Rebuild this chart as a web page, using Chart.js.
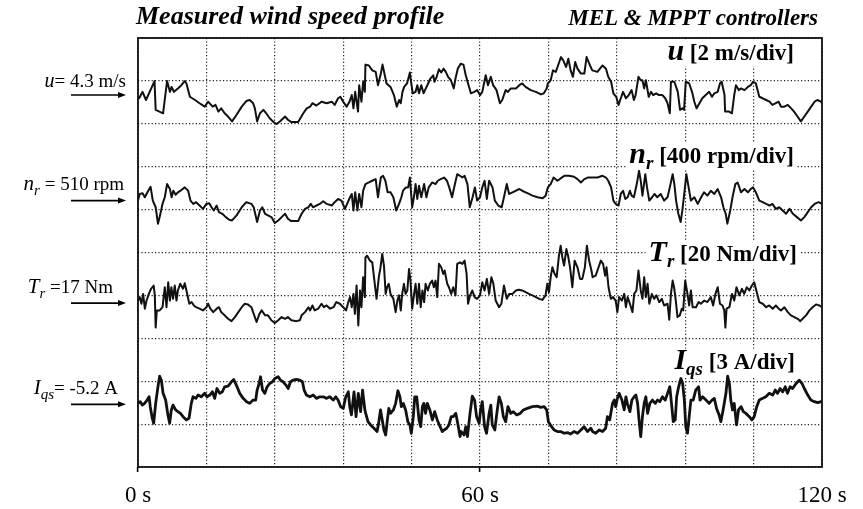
<!DOCTYPE html>
<html>
<head>
<meta charset="utf-8">
<title>Measured wind speed profile - MEL &amp; MPPT controllers</title>
<script src="https://cdn.jsdelivr.net/npm/chart.js@4/dist/chart.umd.min.js"></script>
<style>
    html, body { margin: 0; padding: 0; background: #fff; }
    #wrap { width: 863px; height: 509px; }
</style>
</head>
<body>
<div id="wrap"><canvas id="scope" width="863" height="509"></canvas></div>
<script>
// Zeitachse (s): nur drei Beschriftungen, Raster alle 12 s.
var timeTicks = [0, 60, 120];
var timeTickLabels = ['0 s', '60 s', '120 s'];

// Windgeschwindigkeit u (m/s)
var windSpeed = [
    [0.1,4.22],[0.2,4.15],[0.8,4.45],[1.4,4.07],[2.9,4.95],[3.1,3.61],[4.4,3.45],[5.1,4.95],[5.6,4.45],[5.9,4.68],
    [6.3,4.45],[7.0,4.61],[7.6,4.76],[8.2,4.95],[8.5,4.84],[9.1,4.22],[10.0,4.07],[10.8,3.92],[11.7,3.76],[12.3,3.99],
    [13.1,3.76],[13.6,3.84],[14.1,3.53],[14.6,3.68],[15.2,3.45],[15.8,3.30],[16.5,3.07],[17.3,3.38],[18.2,3.76],[19.0,4.02],
    [19.6,4.07],[20.2,3.92],[20.5,3.68],[20.9,3.07],[21.4,3.45],[22.0,3.61],[22.5,3.45],[23.1,3.22],[24.0,2.99],[24.3,2.95],
    [24.9,3.07],[25.8,3.30],[26.3,3.15],[26.9,3.04],[28.1,3.04],[29.0,3.45],[29.6,3.68],[30.2,3.76],[30.6,3.92],[31.3,3.81],
    [32.2,3.99],[33.1,3.92],[34.0,3.99],[34.5,3.84],[35.1,4.15],[35.5,4.22],[36.0,3.99],[36.6,3.76],[37.1,3.99],[37.5,4.30],
    [37.8,3.68],[38.1,4.45],[38.6,3.53],[38.8,4.76],[39.2,3.99],[39.5,4.92],[39.8,4.45],
    [39.9,5.72],[40.5,5.68],[41.1,5.45],[41.7,5.38],[42.1,4.76],[42.6,5.30],[42.9,5.72],[43.3,5.22],[43.6,4.84],[44.3,4.68],
    [44.9,4.30],[45.4,3.76],[45.8,4.07],[46.1,3.92],[46.4,4.45],[46.7,4.68],[47.2,4.84],[47.7,5.35],[47.9,4.92],[48.2,4.38],
    [48.7,4.45],[49.0,4.76],[49.3,4.38],[49.7,4.76],[50.1,4.38],[50.5,4.61],[50.9,4.84],[51.3,5.07],[51.8,5.22],[52.0,4.92],
    [52.4,5.15],[52.8,5.50],[53.2,5.35],[53.6,5.53],[54.0,5.38],[54.4,5.15],[54.9,4.99],[55.4,4.61],[55.7,5.07],[56.1,5.53],
    [56.6,5.76],[57.1,5.72],[57.5,5.22],[57.9,4.84],[58.4,4.38],[59.0,4.45],[59.5,4.53],[60.0,4.30],[60.4,4.45],[61.0,5.22],
    [61.4,4.76],[61.9,5.15],[62.3,4.76],[62.9,4.53],[63.5,3.92],[63.9,4.07],[64.5,4.53],[64.9,4.45],[65.4,4.61],[66.3,4.61],
    [66.9,4.76],[67.4,4.84],[68.0,4.68],[68.9,4.53],[69.8,4.45],[70.7,4.33],[71.2,4.38],[71.7,4.61],[71.9,4.84],[72.4,4.99],
    [72.8,5.45],[73.3,5.38],[73.6,5.61],[74.2,6.07],[74.6,5.92],[75.1,5.61],[75.5,5.99],[75.9,5.45],[76.3,5.15],[76.7,5.84],
    [77.1,5.53],[77.7,5.30],[78.3,5.30],[78.7,6.07],[79.3,5.68],
    [79.7,5.45],[80.6,5.38],[81.5,5.68],[82.1,5.53],[82.5,5.15],[83.0,4.92],[83.4,4.38],[83.9,4.22],[84.3,3.84],[84.7,4.15],
    [85.1,4.45],[85.6,4.15],[86.1,4.30],[86.6,4.53],[87.0,4.07],[87.3,4.30],[87.8,5.15],[88.2,4.99],[88.5,4.99],[88.8,4.61],
    [89.1,4.99],[89.6,4.22],[90.0,4.45],[90.4,4.30],[90.9,4.38],[91.4,4.30],[92.0,4.30],[92.5,4.15],[92.9,3.92],[93.3,3.45],
    [93.5,4.92],[94.1,4.92],[94.7,4.45],[95.1,3.61],[95.5,3.68],[95.8,3.61],[96.1,4.92],[96.7,4.84],[97.2,4.45],[97.6,3.99],
    [98.0,3.68],[98.5,3.92],[99.0,4.15],[99.6,4.30],[100.2,4.45],[100.7,4.22],[101.1,4.38],[101.7,4.45],[102.1,4.84],[102.4,4.92],
    [102.9,4.30],[103.0,3.53],[103.7,3.53],[104.2,3.45],[104.6,4.30],[104.9,4.76],[105.4,4.53],[105.8,4.61],[106.4,4.53],[107.0,4.68],
    [107.5,4.76],[107.9,4.92],[108.4,4.84],[109.0,4.22],[109.6,4.15],[110.2,4.07],[110.8,3.99],[111.3,3.84],[111.9,3.92],[112.4,3.99],
    [112.8,3.76],[113.4,3.76],[114.0,3.84],[114.6,3.68],[115.1,3.53],[115.7,3.30],[116.3,3.07],[116.9,3.30],[117.5,3.53],[118.1,3.76],
    [118.7,3.99],[119.2,4.07],[119.8,3.99],[120.0,3.92]
];

// Rotordrehzahl n_r (rpm)
var rotorSpeed = [
    [0.0,510],[0.3,572],[0.8,578],[1.2,541],[1.8,602],[2.2,639],[2.6,510],[3.1,448],[3.5,295],[3.8,356],
    [4.3,479],[4.7,541],[5.1,664],[5.6,618],[5.9,541],[6.2,602],[6.6,565],[7.0,587],[7.6,608],[8.2,633],
    [8.8,602],[9.2,510],[9.7,479],[10.2,495],[10.8,464],[11.4,433],[12.0,479],[12.5,485],[12.9,448],[13.3,418],
    [13.8,464],[14.2,402],[14.8,387],[15.4,356],[16.0,332],[16.5,325],[17.3,372],[18.2,448],[19.0,495],[19.9,479],
    [20.3,448],[20.9,310],[21.4,418],[21.8,448],[22.3,387],[22.8,372],[23.4,356],[24.0,301],[24.6,325],[25.2,356],
    [25.8,387],[26.3,341],[26.9,319],[28.1,319],[28.7,387],[29.3,433],[29.9,448],[30.3,479],[30.7,448],[31.3,464],
    [31.9,479],[32.5,504],[33.1,479],[34.0,464],[34.5,495],[35.1,525],[35.7,510],[36.3,433],[37.2,541],[37.5,572],
    [37.8,418],[38.1,587],[38.5,418],[38.8,572],[39.2,448],[39.5,602],
    [39.9,664],[40.5,679],[41.1,695],[41.7,710],[42.1,541],[42.6,725],[43.0,741],[43.4,695],[43.8,587],[44.3,587],
    [44.8,541],[45.3,418],[45.8,479],[46.2,541],[46.5,602],[47.0,633],[47.4,633],[47.7,725],[48.1,448],[48.4,541],
    [48.7,664],[49.0,525],[49.3,648],[49.7,541],[50.2,664],[50.6,541],[51.0,633],[51.6,679],[52.2,664],[52.6,695],
    [53.1,710],[53.7,725],[54.2,695],[54.6,633],[55.1,541],[55.6,664],[56.0,756],[56.5,741],[56.9,725],[57.3,741],
    [57.8,664],[58.2,448],[58.7,541],[59.1,633],[59.5,510],[60.0,541],[60.4,633],[60.8,695],[61.2,525],[61.6,695],
    [62.2,633],[62.6,510],[63.2,464],[63.8,448],[64.2,541],[64.7,664],[65.1,572],[65.7,587],[66.3,602],[66.9,618],
    [67.4,602],[68.0,587],[68.6,572],[69.2,556],[70.1,541],[71.0,532],[71.5,556],[71.9,633],[72.4,664],[72.9,725],
    [73.6,695],[74.2,719],[74.8,741],[75.6,741],[76.5,732],[77.1,710],[77.7,679],[78.3,710],[78.9,725],[79.4,725],
    [79.7,725],[80.6,725],[81.5,741],[82.1,725],[82.5,695],[83.0,633],[83.4,510],[83.8,479],[84.3,464],[84.7,572],
    [85.1,602],[85.5,525],[85.9,541],[86.3,602],[86.6,556],[87.0,541],[87.5,664],[87.9,787],[88.2,695],[88.5,556],
    [89.0,756],[89.3,633],[89.7,510],[90.2,541],[90.6,572],[91.1,541],[91.7,572],[92.3,510],[92.9,541],[93.3,633],
    [93.8,756],[94.1,664],[94.4,510],[94.8,387],[95.2,310],[95.5,418],[95.8,556],[96.2,756],[96.6,633],[97.0,510],
    [97.6,541],[98.2,479],[98.8,541],[99.3,587],[99.9,556],[100.5,602],[101.1,572],[101.7,618],[102.3,541],[102.7,448],
    [103.1,387],[103.4,295],[103.9,418],[104.3,541],[104.8,664],[105.2,679],[105.8,587],[106.4,618],[107.0,587],[107.5,618],
    [107.9,633],[108.4,587],[109.0,510],[109.6,495],[110.2,479],[110.8,464],[111.3,479],[111.9,433],[112.5,448],[113.1,418],
    [113.7,387],[114.3,433],[114.9,387],[115.6,356],[116.3,325],[116.9,356],[117.5,402],[118.1,448],[118.7,479],[119.4,495],
    [120.0,479]
];

// Rotormoment T_r (Nm)
var rotorTorque = [
    [0.0,18.2],[0.3,19.8],[0.6,16.7],[0.9,21.3],[1.2,14.4],[1.5,18.2],[1.9,21.3],[2.3,23.7],[2.75,25.2],[2.95,20.6],
    [3.1,5.6],[3.3,13.6],[3.8,13.6],[4.3,15.1],[4.7,24.4],[5.0,15.1],[5.3,26.7],[5.6,18.2],[5.85,24.4],[6.15,19.0],
    [6.45,25.2],[6.75,18.2],[7.0,22.9],[7.4,26.0],[7.9,23.7],[8.2,26.3],[8.5,22.9],[9.0,16.7],[9.4,17.5],[9.8,15.9],
    [10.2,15.1],[10.8,14.4],[11.4,13.6],[12.0,15.1],[12.3,16.7],[12.7,14.4],[13.2,12.8],[13.8,14.4],[14.2,15.1],[14.6,12.8],
    [15.2,11.3],[15.8,9.7],[16.4,8.6],[17.0,10.5],[17.6,12.8],[18.2,15.1],[18.7,16.7],[19.3,16.4],[19.9,15.1],[20.3,12.0],
    [20.8,8.2],[21.3,12.0],[21.7,13.6],[22.3,11.3],[22.8,11.3],[23.4,9.0],[24.0,7.7],[24.6,9.0],[25.2,10.5],[25.8,9.7],
    [26.3,10.5],[26.9,9.0],[27.8,8.6],[28.4,9.0],[28.7,11.3],[29.3,12.8],[29.9,15.1],[30.2,13.6],[30.6,15.9],[31.0,13.6],
    [31.6,14.4],[32.2,16.7],[32.6,15.1],[33.1,15.9],[33.7,14.4],[34.3,15.1],[34.8,17.5],[35.4,16.7],[36.0,15.1],[36.5,13.6],
    [36.9,17.5],[37.2,19.8],[37.5,15.1],[37.8,21.3],[38.05,12.0],[38.35,25.2],[38.65,6.6],[38.95,22.9],[39.2,15.1],[39.5,29.1],
    [39.8,19.8],
    [39.9,38.3],[40.2,39.1],[40.7,36.8],[41.1,36.0],[41.4,29.1],[41.85,19.0],[42.25,29.1],[42.55,33.7],[42.85,39.9],[43.15,34.5],
    [43.45,21.3],[43.7,24.4],[44.0,26.0],[44.3,21.3],[44.8,19.0],[45.2,12.8],[45.5,18.2],[45.8,20.6],[46.1,13.6],[46.35,21.3],
    [46.65,26.0],[46.95,21.3],[47.25,22.9],[47.55,32.9],[47.8,27.5],[48.1,14.4],[48.4,20.6],[48.7,26.0],[49.0,16.7],[49.3,26.0],
    [49.6,15.1],[49.9,22.9],[50.2,17.5],[50.45,26.0],[50.85,22.9],[51.2,26.0],[51.6,27.5],[51.9,24.4],[52.2,27.5],[52.5,19.8],
    [52.8,35.3],[53.2,33.7],[53.55,30.6],[53.8,32.2],[54.25,26.0],[54.55,24.4],[54.95,21.3],[55.3,24.4],[55.7,20.6],[56.0,35.3],
    [56.5,36.0],[56.9,35.3],[57.3,36.8],[57.65,30.6],[57.9,16.7],[58.25,20.6],[58.65,22.9],[59.05,19.8],[59.5,19.0],[60.0,20.6],
    [60.4,26.7],[60.8,22.9],[61.2,28.3],[61.6,21.3],[62.0,29.1],[62.35,26.0],[62.75,18.2],[63.35,15.1],[63.75,16.7],[64.2,25.2],
    [64.7,19.0],[65.1,21.3],[65.7,21.3],[66.3,22.9],[66.85,23.2],[67.4,22.9],[68.0,22.1],[68.6,21.3],[69.2,20.6],[69.8,19.8],
    [70.4,19.0],[70.95,18.5],[71.5,20.6],[71.8,26.0],[72.1,22.1],[72.4,29.1],[72.7,33.7],[73.1,30.6],[73.45,29.1],[73.85,39.1],
    [74.15,43.8],[74.45,38.3],[74.75,34.5],[75.15,42.2],[75.45,39.1],[75.8,33.7],[76.2,24.4],[76.6,36.8],[77.1,33.7],[77.55,28.3],
    [77.95,28.3],[78.4,33.7],[78.75,43.8],[79.15,36.8],[79.55,32.2],
    [79.75,29.1],[80.3,29.8],[80.8,33.7],[81.2,36.8],[81.6,35.3],[81.95,29.8],[82.2,33.7],[82.55,24.4],[82.95,19.0],[83.35,19.8],
    [83.8,18.2],[84.1,12.8],[84.4,19.8],[84.9,18.2],[85.3,21.3],[85.6,15.1],[85.9,19.8],[86.3,16.7],[86.75,12.8],[87.05,21.3],
    [87.45,22.9],[87.8,32.2],[88.2,22.9],[88.5,19.0],[88.8,29.1],[89.1,19.8],[89.4,26.0],[89.7,16.7],[90.15,21.3],[90.55,19.0],
    [90.95,20.6],[91.45,17.5],[91.9,19.0],[92.3,15.9],[92.9,16.7],[93.2,9.3],[93.5,21.3],[93.8,27.5],[94.05,24.4],[94.35,18.2],
    [94.65,10.5],[95.05,11.3],[95.4,14.4],[95.65,13.6],[96.0,27.5],[96.4,21.3],[96.7,15.9],[97.0,22.9],[97.3,15.1],[97.9,15.1],
    [98.35,17.5],[98.75,16.7],[99.35,18.2],[99.9,17.5],[100.5,19.8],[100.9,15.9],[101.3,21.3],[101.7,24.4],[102.1,16.7],[102.55,15.9],
    [102.85,13.6],[103.05,5.6],[103.25,14.4],[103.75,15.1],[104.2,21.3],[104.6,18.2],[105.0,24.4],[105.5,20.6],[105.95,23.7],[106.35,21.3],
    [106.8,24.4],[107.25,22.9],[107.7,25.2],[108.1,26.7],[108.55,22.1],[109.0,17.5],[109.6,16.7],[110.2,15.1],[110.75,15.9],[111.35,14.4],
    [111.9,15.9],[112.4,14.4],[112.8,13.6],[113.4,15.1],[114.0,12.8],[114.55,11.3],[115.15,10.5],[115.75,9.7],[116.15,8.6],[116.6,9.7],
    [117.2,11.3],[117.8,13.6],[118.35,15.1],[118.95,16.4],[119.55,15.9],[120.0,15.1]
];

// q-Statorstrom I_qs (A)
var statorCurrent = [
    [0.0,-5.13],[0.4,-5.01],[0.75,-5.25],[1.15,-5.13],[1.6,-4.90],[1.95,-4.67],[2.15,-5.36],[2.5,-6.17],[2.75,-6.52],[3.1,-5.13],
    [3.5,-3.97],[3.8,-3.23],[4.1,-3.51],[4.4,-4.43],[4.85,-4.90],[5.25,-5.94],[5.55,-6.52],[5.85,-5.59],[6.15,-5.25],[6.6,-5.59],
    [7.0,-5.71],[7.45,-5.83],[7.9,-6.06],[8.5,-6.29],[8.95,-6.17],[9.35,-5.13],[9.65,-4.67],[10.15,-4.78],[10.55,-4.55],[11.1,-4.67],
    [11.7,-4.43],[12.1,-4.67],[12.6,-4.55],[13.05,-4.32],[13.45,-4.78],[13.85,-4.09],[14.35,-4.43],[14.8,-4.32],[15.2,-3.97],[15.8,-3.92],
    [16.4,-3.62],[16.8,-3.46],[17.25,-3.85],[17.85,-4.43],[18.45,-4.78],[19.05,-5.01],[19.6,-5.13],[20.2,-4.90],[20.65,-4.90],[20.9,-4.20],
    [21.25,-3.74],[21.5,-3.27],[21.85,-4.20],[22.25,-4.43],[22.65,-3.97],[23.1,-3.74],[23.6,-3.62],[24.0,-3.39],[24.6,-3.27],[25.0,-3.51],
    [25.45,-3.62],[25.95,-3.85],[26.35,-4.09],[26.75,-3.62],[27.2,-3.51],[27.8,-3.46],[28.4,-3.51],[28.85,-3.62],[29.15,-4.20],[29.55,-4.55],
    [30.15,-4.67],[30.75,-4.55],[31.3,-4.78],[31.9,-4.67],[32.5,-4.67],[33.1,-4.78],[33.65,-4.67],[34.25,-4.90],[34.7,-4.67],[35.1,-4.90],
    [35.55,-5.36],[36.0,-5.48],[36.45,-4.67],[36.9,-4.32],[37.15,-5.36],[37.45,-5.94],[37.9,-4.32],[38.25,-6.06],[38.65,-4.43],[39.05,-5.71],
    [39.4,-4.20],[39.8,-5.59],
    [39.95,-5.83],[40.35,-6.41],[40.8,-6.64],[41.4,-6.87],[41.95,-7.10],[42.25,-6.41],[42.55,-5.59],[42.85,-6.29],[43.15,-6.99],[43.45,-7.34],
    [43.75,-6.29],[44.0,-5.48],[44.3,-5.83],[44.8,-5.59],[45.2,-5.13],[45.6,-4.25],[45.95,-4.67],[46.2,-5.36],[46.55,-5.13],[46.95,-5.59],
    [47.35,-6.41],[47.7,-6.64],[47.95,-7.22],[48.3,-6.06],[48.55,-4.67],[48.9,-4.67],[49.3,-6.29],[49.6,-6.76],[49.9,-5.36],[50.15,-5.13],
    [50.45,-5.83],[50.75,-5.13],[51.2,-5.59],[51.65,-6.29],[52.05,-5.71],[52.5,-6.29],[53.0,-6.76],[53.4,-7.10],[53.7,-6.99],[54.15,-6.87],
    [54.55,-6.64],[54.95,-6.06],[55.3,-6.06],[55.75,-5.83],[56.15,-6.64],[56.5,-7.45],[56.7,-7.10],[57.2,-7.34],[57.5,-6.76],[57.8,-7.45],
    [58.25,-5.83],[58.65,-4.62],[59.05,-4.90],[59.4,-6.06],[59.85,-6.52],[60.1,-5.59],[60.4,-5.01],[60.8,-6.76],[61.15,-7.22],[61.6,-5.83],
    [61.9,-5.25],[62.15,-6.64],[62.6,-6.99],[62.95,-5.83],[63.35,-4.67],[63.75,-5.13],[64.1,-6.06],[64.5,-6.41],[64.9,-5.36],[65.4,-5.83],
    [65.85,-5.71],[66.45,-5.94],[67.05,-5.83],[67.6,-5.59],[68.3,-5.48],[69.2,-5.36],[70.05,-5.32],[70.65,-5.41],[71.25,-5.36],[71.7,-5.59],
    [72.0,-6.41],[72.55,-6.76],[73.0,-6.99],[73.6,-7.10],[74.15,-7.10],[74.75,-7.22],[75.35,-7.17],[75.9,-7.27],[76.5,-7.10],[77.1,-7.22],
    [77.7,-6.99],[78.25,-6.76],[78.85,-7.10],[79.45,-6.87],
    [79.75,-7.10],[80.3,-7.22],[80.9,-6.99],[81.5,-7.10],[82.05,-6.87],[82.35,-6.06],[82.75,-6.29],[83.25,-5.13],[83.55,-4.90],[83.8,-5.36],
    [84.1,-4.78],[84.4,-4.43],[84.9,-4.90],[85.3,-5.59],[85.6,-4.67],[85.85,-5.13],[86.3,-5.71],[86.65,-4.90],[87.05,-4.67],[87.35,-4.55],
    [87.65,-5.13],[87.9,-6.29],[88.2,-7.45],[88.5,-6.06],[88.8,-5.13],[89.1,-4.67],[89.4,-5.83],[89.8,-5.13],[90.25,-4.90],[90.75,-5.13],
    [91.15,-4.90],[91.55,-5.01],[92.0,-4.67],[92.5,-4.90],[92.9,-4.43],[93.3,-3.97],[93.65,-5.36],[93.9,-6.41],[94.25,-6.29],[94.5,-4.67],
    [94.85,-3.97],[95.25,-3.39],[95.55,-3.74],[95.85,-4.90],[96.1,-6.76],[96.4,-7.22],[96.7,-6.06],[97.0,-4.90],[97.4,-4.90],[97.85,-4.20],
    [98.35,-3.97],[98.6,-4.90],[99.05,-4.67],[99.65,-4.90],[100.2,-5.13],[100.7,-4.90],[101.1,-4.78],[101.5,-5.48],[101.95,-5.94],[102.25,-6.41],
    [102.65,-5.59],[103.15,-4.43],[103.45,-3.23],[103.75,-3.74],[104.0,-4.90],[104.3,-5.59],[104.6,-5.13],[105.0,-6.64],[105.35,-5.59],[105.8,-5.36],
    [106.2,-5.71],[106.65,-5.83],[107.25,-6.06],[107.7,-6.29],[108.1,-6.06],[108.55,-5.36],[109.0,-4.90],[109.6,-4.78],[110.15,-4.67],[110.75,-4.43],
    [111.35,-4.55],[111.8,-4.20],[112.2,-4.43],[112.65,-4.09],[113.1,-4.32],[113.55,-3.97],[113.95,-4.43],[114.4,-3.97],[114.85,-4.09],[115.45,-3.74],
    [116.0,-3.51],[116.5,-3.74],[116.9,-4.09],[117.5,-4.55],[118.05,-4.90],[118.65,-5.01],[119.25,-5.08],[119.85,-5.01],[120.0,-5.01]
];

// Oszilloskop-Einstellungen je Kanal: Bezugswert (Pfeil), Einheit pro Teilung, Lage des Bezugs in Teilungen von unten.
var traceRefs = [4.3, 510, 17, -5.2];
var tracePerDiv = [2, 400, 20, 3];
var traceRefLevel = [8.67, 6.21, 3.82, 1.46];
var DIVS = 10;

var SERIF = '"Liberation Serif", "Times New Roman", serif';
var INK = '#111';

// Text aus mehreren Stücken (Kursiv, Index) zeichnen.
function drawParts(ctx, parts, x, y, align) {
    var total = 0;
    parts.forEach(function (p) {
        ctx.font = p.font;
        p.w = ctx.measureText(p.text).width;
        total += p.w;
    });
    var left = align === 'right' ? x - total : x;
    var cx = left;
    parts.forEach(function (p) {
        ctx.font = p.font;
        ctx.fillText(p.text, cx, y + (p.dy || 0));
        cx += p.w;
    });
    return { left: left, width: total };
}

function measureParts(ctx, parts) {
    var total = 0;
    parts.forEach(function (p) {
        ctx.font = p.font;
        total += ctx.measureText(p.text).width;
    });
    return total;
}

// Kanalbeschriftungen links (mit Pfeil) und rechts im Raster.
var leftLabels = [
    { right: 126, lift: 8.5, parts: [
        { text: 'u', font: 'italic 20px ' + SERIF },
        { text: '= 4.3 m/s', font: '19px ' + SERIF }
    ] },
    { right: 124, lift: 10.5, parts: [
        { text: 'n', font: 'italic 21px ' + SERIF },
        { text: 'r', font: 'italic 15px ' + SERIF, dy: 5 },
        { text: ' = 510 rpm', font: '19px ' + SERIF }
    ] },
    { right: 113, lift: 10.5, parts: [
        { text: 'T', font: 'italic 21px ' + SERIF },
        { text: 'r', font: 'italic 15px ' + SERIF, dy: 5 },
        { text: ' =17 Nm', font: '19px ' + SERIF }
    ] },
    { right: 118, lift: 10.5, parts: [
        { text: 'I', font: 'italic 21px ' + SERIF },
        { text: 'qs', font: 'italic 15px ' + SERIF, dy: 5 },
        { text: '= -5.2 A', font: '19px ' + SERIF }
    ] }
];

var scaleLabels = [
    { right: 794, base: 59.5, parts: [
        { text: 'u', font: 'bold italic 30px ' + SERIF },
        { text: ' [2 m/s/div]', font: 'bold 23px ' + SERIF }
    ] },
    { right: 794, base: 163, parts: [
        { text: 'n', font: 'bold italic 30px ' + SERIF },
        { text: 'r', font: 'bold italic 19px ' + SERIF, dy: 6 },
        { text: ' [400 rpm/div]', font: 'bold 23px ' + SERIF }
    ] },
    { right: 797, base: 261, parts: [
        { text: 'T', font: 'bold italic 30px ' + SERIF },
        { text: 'r', font: 'bold italic 19px ' + SERIF, dy: 6 },
        { text: ' [20 Nm/div]', font: 'bold 23px ' + SERIF }
    ] },
    { right: 795, base: 369, parts: [
        { text: 'I', font: 'bold italic 30px ' + SERIF },
        { text: 'qs', font: 'bold italic 19px ' + SERIF, dy: 6 },
        { text: ' [3 A/div]', font: 'bold 23px ' + SERIF }
    ] }
];

// Rahmen und Beschriftungen im Raster (weiß hinterlegt, wie im Original).
var scopeFrame = {
    id: 'scopeFrame',
    beforeDatasetsDraw: function (chart) {
        var ctx = chart.ctx;
        var a = chart.chartArea;
        ctx.save();
        ctx.strokeStyle = INK;
        ctx.lineWidth = 1.8;
        ctx.strokeRect(a.left, a.top, a.right - a.left, a.bottom - a.top);

        ctx.textBaseline = 'alphabetic';
        scaleLabels.forEach(function (lbl) {
            var w = measureParts(ctx, lbl.parts);
            ctx.fillStyle = '#fff';
            ctx.fillRect(lbl.right - w - 3, lbl.base - 20, w + 6, 27);
            ctx.fillStyle = '#000';
            drawParts(ctx, lbl.parts, lbl.right, lbl.base, 'right');
        });
        ctx.restore();
    },
    afterDraw: function (chart) {
        var ctx = chart.ctx;
        var a = chart.chartArea;
        ctx.save();
        ctx.fillStyle = '#000';
        ctx.textBaseline = 'alphabetic';

        // Überschriften
        ctx.font = 'bold italic 26px ' + SERIF;
        ctx.textAlign = 'left';
        ctx.fillText('Measured wind speed profile', 136, 23.5);
        ctx.font = 'bold italic 23px ' + SERIF;
        ctx.textAlign = 'right';
        ctx.fillText('MEL & MPPT controllers', 818, 25);
        ctx.textAlign = 'left';

        // Bezugspfeile: Lage aus der jeweiligen Kanalskala
        leftLabels.forEach(function (lbl, i) {
            var y = chart.scales['ch' + i].getPixelForValue(traceRefs[i]);
            drawParts(ctx, lbl.parts, lbl.right, y - lbl.lift, 'right');

            ctx.strokeStyle = '#000';
            ctx.lineWidth = 1.6;
            ctx.beginPath();
            ctx.moveTo(71, y);
            ctx.lineTo(a.left - 17, y);
            ctx.stroke();
            ctx.beginPath();
            ctx.moveTo(a.left - 12, y);
            ctx.lineTo(a.left - 20, y - 3);
            ctx.lineTo(a.left - 20, y + 3);
            ctx.closePath();
            ctx.fill();
        });
        ctx.restore();
    }
};

function toPoints(series) {
    return series.map(function (p) {
        return { x: p[0], y: p[1] };
    });
}

var traces = [windSpeed, rotorSpeed, rotorTorque, statorCurrent];
var traceWidths = [2, 2, 2, 2.8];

var datasets = traces.map(function (series, i) {
    return {
        data: toPoints(series),
        yAxisID: 'ch' + i,
        borderColor: INK,
        borderWidth: traceWidths[i],
        borderJoinStyle: 'round',
        pointRadius: 0,
        tension: 0,
        fill: false
    };
});

var scales = {
    x: {
        type: 'linear',
        min: 0,
        max: 120,
        afterFit: function (scale) { scale.height = 42; },
        ticks: {
            stepSize: 12,
            autoSkip: false,
            maxRotation: 0,
            padding: 10,
            color: '#000',
            font: { family: SERIF, size: 23 },
            callback: function (v) {
                var i = timeTicks.indexOf(v);
                return i >= 0 ? timeTickLabels[i] : '';
            }
        },
        grid: {
            color: '#222',
            lineWidth: 1.2,
            tickLength: 5,
            tickWidth: 1.6,
            tickColor: function (c) {
                return c.tick && (c.tick.value === 0 || c.tick.value === 60) ? '#000' : 'rgba(0,0,0,0)';
            }
        },
        border: { display: false, dash: [1.2, 2.2] }
    },
    // Teilungsraster senkrecht
    div: {
        type: 'linear',
        position: 'left',
        min: 0,
        max: DIVS,
        afterFit: function (scale) { scale.width = 0; },
        ticks: { display: false, stepSize: 1 },
        grid: { color: '#222', lineWidth: 1.2, drawTicks: false },
        border: { display: false, dash: [1.2, 2.2] }
    }
};

// Eine unsichtbare Skala je Kanal, so dass der Bezugswert auf seiner Teilung liegt.
traceRefs.forEach(function (ref, i) {
    var min = ref - traceRefLevel[i] * tracePerDiv[i];
    scales['ch' + i] = {
        type: 'linear',
        display: false,
        min: min,
        max: min + DIVS * tracePerDiv[i]
    };
});

new Chart(document.getElementById('scope').getContext('2d'), {
    type: 'line',
    data: { datasets: datasets },
    options: {
        responsive: false,
        animation: false,
        events: [],
        layout: { padding: { left: 138, right: 41, top: 38, bottom: 0 } },
        plugins: {
            legend: { display: false },
            tooltip: { enabled: false },
            title: { display: false }
        },
        scales: scales
    },
    plugins: [scopeFrame]
});
</script>
</body>
</html>
